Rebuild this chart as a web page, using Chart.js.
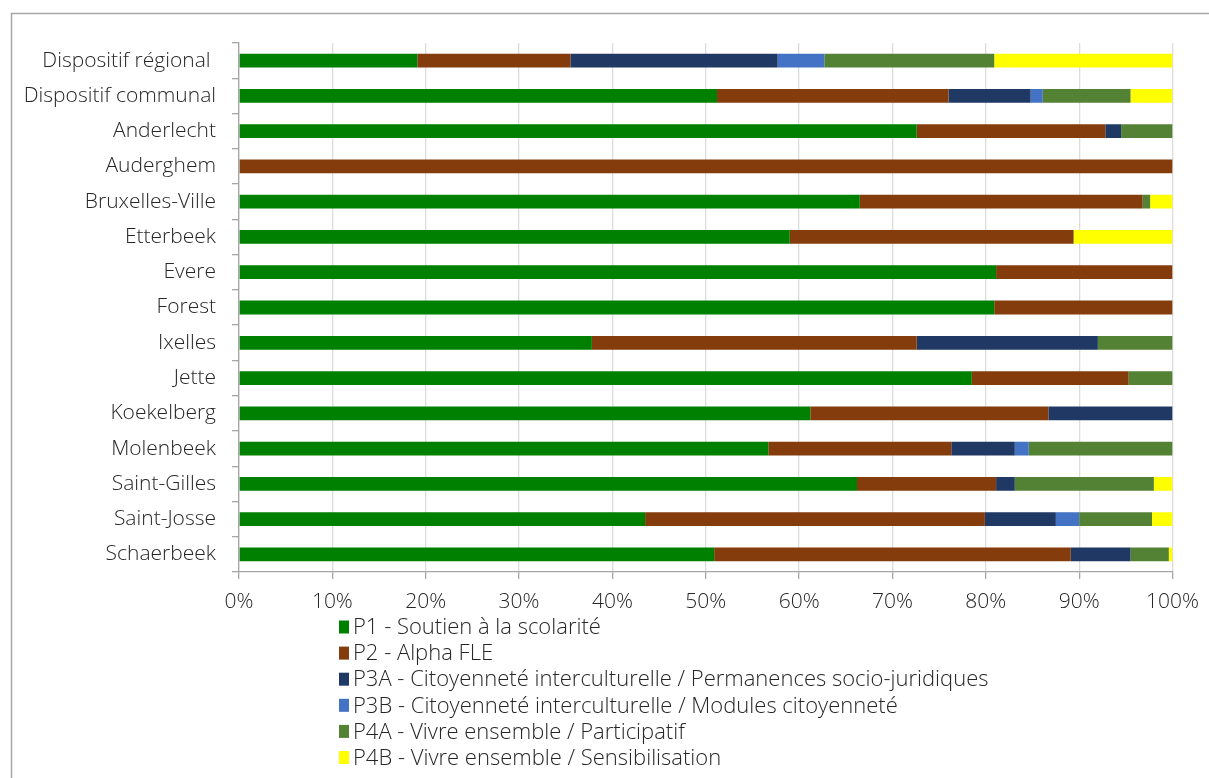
<!DOCTYPE html>
<html lang="fr">
<head>
<meta charset="utf-8">
<title>Répartition par priorité</title>
<script src="https://cdn.jsdelivr.net/npm/chart.js@4.4.1/dist/chart.umd.min.js"></script>
<style>
  html, body { margin: 0; padding: 0; background: #ffffff; }
  #wrap { width: 1209px; height: 778px; position: relative; }
</style>
</head>
<body>
<div id="wrap"><canvas id="chart" width="1209" height="778"></canvas></div>
<script>
// Communes / dispositifs (one bar each)
const categories = [
  'Dispositif régional ', 'Dispositif communal', 'Anderlecht', 'Auderghem',
  'Bruxelles-Ville', 'Etterbeek', 'Evere', 'Forest', 'Ixelles', 'Jette',
  'Koekelberg', 'Molenbeek', 'Saint-Gilles', 'Saint-Josse', 'Schaerbeek'
];

// Share of each priority, in percent
const p1  = [19.1, 51.2, 72.6, 0,   66.5, 59.0, 81.1, 80.9, 37.8, 78.5, 61.2, 56.7, 66.2, 43.5, 50.9];
const p2  = [16.4, 24.8, 20.2, 100, 30.3, 30.4, 18.9, 19.1, 34.8, 16.8, 25.5, 19.6, 14.9, 36.4, 38.2];
const p3a = [22.2, 8.8,  1.7,  0,   0,    0,    0,    0,    19.4, 0,    13.3, 6.8,  2.0,  7.6,  6.4];
const p3b = [5.0,  1.3,  0,    0,   0,    0,    0,    0,    0,    0,    0,    1.5,  0,    2.5,  0];
const p4a = [18.2, 9.4,  5.5,  0,   0.8,  0,    0,    0,    8.0,  4.7,  0,    15.4, 14.9, 7.8,  4.1];
const p4b = [19.1, 4.5,  0,    0,   2.4,  10.6, 0,    0,    0,    0,    0,    0,    2.0,  2.2,  0.4];

const seriesNames = [
  'P1 - Soutien à la scolarité',
  'P2 - Alpha FLE',
  'P3A - Citoyenneté interculturelle / Permanences socio-juridiques',
  'P3B - Citoyenneté interculturelle / Modules citoyenneté',
  'P4A - Vivre ensemble / Participatif',
  'P4B - Vivre ensemble / Sensibilisation'
];
const seriesColors = ['#008000', '#843C0C', '#1F3864', '#4472C4', '#548235', '#FFFF00'];
const seriesValues = [p1, p2, p3a, p3b, p4a, p4b];

const FONT = '"Open Sans", Lato, sans-serif';
const WEIGHT = 300;
const TEXT = '#262626';

// Outer frame of the chart object
const framePlugin = {
  id: 'frame',
  beforeDraw(chart) {
    const ctx = chart.ctx;
    ctx.save();
    ctx.fillStyle = '#ffffff';
    ctx.fillRect(0, 0, chart.width, chart.height);
    ctx.strokeStyle = '#a6a6a6';
    ctx.lineWidth = 1.5;
    ctx.strokeRect(11.5, 13.5, chart.width + 20, chart.height + 20);
    ctx.restore();
  }
};

// One legend entry per line, under the axis
const stackedLegend = {
  id: 'stackedLegend',
  afterDraw(chart) {
    const ctx = chart.ctx;
    const x0 = 339, y0 = 627, step = 26.1;
    ctx.save();
    ctx.font = WEIGHT + ' 22px ' + FONT;
    ctx.textBaseline = 'middle';
    ctx.textAlign = 'left';
    chart.data.datasets.forEach((ds, i) => {
      const cy = y0 + i * step;
      ctx.fillStyle = ds.backgroundColor;
      ctx.fillRect(x0, cy - 6.5, 10, 13);
      ctx.fillStyle = TEXT;
      ctx.fillText(ds.label, x0 + 14, cy + 1);
    });
    ctx.restore();
  }
};

new Chart(document.getElementById('chart'), {
  type: 'bar',
  data: {
    labels: categories,
    datasets: seriesNames.map((name, i) => ({
      label: name,
      data: seriesValues[i],
      backgroundColor: seriesColors[i],
      borderWidth: 0,
      barPercentage: 0.39,
      categoryPercentage: 1
    }))
  },
  options: {
    indexAxis: 'y',
    responsive: false,
    animation: false,
    layout: { padding: { top: 43, left: 0, right: 36, bottom: 161 } },
    plugins: {
      legend: { display: false },
      tooltip: { enabled: false }
    },
    scales: {
      x: {
        stacked: true,
        min: 0,
        max: 100,
        ticks: {
          stepSize: 10,
          callback: v => v + '%',
          font: { family: FONT, size: 21, weight: WEIGHT },
          color: TEXT,
          padding: 10,
          maxRotation: 0
        },
        grid: { color: '#dcdcdc', tickColor: '#a6a6a6', tickLength: 7, lineWidth: 1.3 },
        border: { color: '#a6a6a6', width: 1.3 },
        afterFit(scale) { scale.height = 45; }
      },
      y: {
        stacked: true,
        ticks: {
          font: { family: FONT, size: 21, weight: WEIGHT },
          color: TEXT,
          padding: 16,
          autoSkip: false
        },
        grid: { drawOnChartArea: false, tickColor: '#a6a6a6', tickLength: 7, offset: true, lineWidth: 1.3 },
        border: { color: '#a6a6a6', width: 1.3 },
        afterFit(scale) { scale.width = 239; }
      }
    }
  },
  plugins: [framePlugin, stackedLegend]
});
</script>
</body>
</html>
